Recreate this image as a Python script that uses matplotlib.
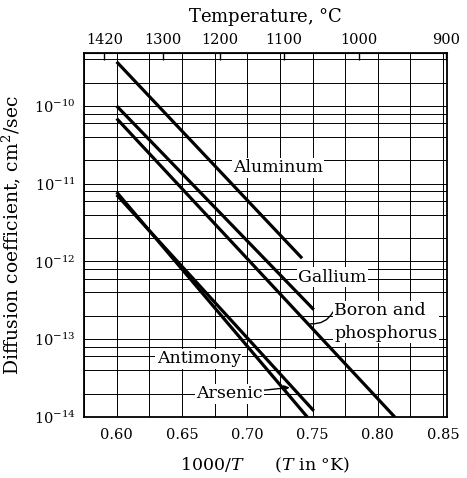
import numpy as np
import matplotlib
matplotlib.use('Agg')
import matplotlib.pyplot as plt
from matplotlib.ticker import FixedLocator, NullFormatter

plt.rcParams['font.family'] = 'DejaVu Serif'
plt.rcParams['mathtext.fontset'] = 'dejavuserif'

# lines: (1000/T, D) at both ends
elements = ['Aluminum', 'Gallium', 'Boron and phosphorus', 'Antimony', 'Arsenic']
x_start = [0.600, 0.600, 0.600, 0.600, 0.600]
x_end = [0.742, 0.751, 0.813, 0.746, 0.751]
d_start = [3.7e-10, 1.0e-10, 6.9e-11, 7.8e-12, 7.2e-12]
d_end = [1.1e-12, 2.4e-13, 1.0e-14, 1.0e-14, 1.2e-14]

x_ticks = [0.60, 0.65, 0.70, 0.75, 0.80, 0.85]
x_minor = [0.575, 0.625, 0.675, 0.725, 0.775, 0.825]
y_decades = [1e-14, 1e-13, 1e-12, 1e-11, 1e-10]
y_labels = [r'$10^{-14}$', r'$10^{-13}$', r'$10^{-12}$', r'$10^{-11}$', r'$10^{-10}$']
temps_c = [1420, 1300, 1200, 1100, 1000, 900]

fig = plt.figure(figsize=(4.67, 4.78), dpi=100)
ax = fig.add_axes([84 / 467, 1 - 417 / 478, 363 / 467, 364 / 478])

ax.set_yscale('log')
ax.set_xlim(0.575, 0.853)
ax.set_ylim(1e-14, 4.8e-10)

ax.xaxis.set_major_locator(FixedLocator(x_ticks))
ax.xaxis.set_minor_locator(FixedLocator(x_minor))
ax.set_xticklabels(['%.2f' % v for v in x_ticks])
ax.yaxis.set_major_locator(FixedLocator(y_decades))
ax.set_yticklabels(y_labels)
minor_y = [m * d for d in [1e-15] + y_decades for m in (2, 4, 6, 8)]
ax.yaxis.set_minor_locator(FixedLocator(minor_y))
ax.yaxis.set_minor_formatter(NullFormatter())
ax.tick_params(which='both', length=0, labelsize=10.5, colors='black')
ax.tick_params(axis='x', pad=8)
ax.tick_params(axis='y', pad=6)
ax.grid(which='both', color='black', lw=0.7)
for s in ax.spines.values():
    s.set_linewidth(1.3)

for xs, xe, ds, de in zip(x_start, x_end, d_start, d_end):
    ax.plot([xs, xe], [ds, de], color='black', lw=2.3, solid_capstyle='butt', zorder=3)

box = dict(facecolor='white', edgecolor='none', pad=1)
fs = 12.5
ax.text(0.7235, 1.6e-11, 'Aluminum', fontsize=fs, ha='center', va='center', bbox=box, zorder=4)
ax.text(0.765, 6.3e-13, 'Gallium', fontsize=fs, ha='center', va='center', bbox=box, zorder=4)
ax.annotate('Boron and\nphosphorus', xy=(0.7485, 1.58e-13), xytext=(0.7667, 1.67e-13),
            fontsize=fs, ha='left', va='center', linespacing=1.45, bbox=box, zorder=4,
            arrowprops=dict(arrowstyle='-', lw=1, color='black', shrinkA=0, shrinkB=0,
                            connectionstyle='arc3,rad=-0.35', relpos=(0, 0.82)))
ax.text(0.6629, 5.6e-14, 'Antimony', fontsize=fs, ha='center', va='center', bbox=box, zorder=4)
ax.annotate('Arsenic', xy=(0.7326, 2.4e-14), xytext=(0.6864, 1.98e-14),
            fontsize=fs, ha='center', va='center', bbox=box, zorder=4,
            arrowprops=dict(arrowstyle='-|>', lw=1, color='black', mutation_scale=8,
                            shrinkA=0, shrinkB=0))

ax.set_xlabel(r'1000/$T$      ($T$ in $\degree$K)', fontsize=12.5, labelpad=10)
ax.set_ylabel(r'Diffusion coefficient, cm$^2$/sec', fontsize=13.5, labelpad=8)

top = ax.secondary_xaxis('top', functions=(lambda v: v, lambda v: v))
top.set_xticks([1000.0 / (t + 273.15) for t in temps_c])
top.set_xticklabels([str(t) for t in temps_c])
top.tick_params(direction='in', length=5, width=1, labelsize=10.5, pad=4)
top.set_xlabel(r'Temperature, $\degree$C', fontsize=13, labelpad=8)

fig.savefig('out.png', dpi=100)
